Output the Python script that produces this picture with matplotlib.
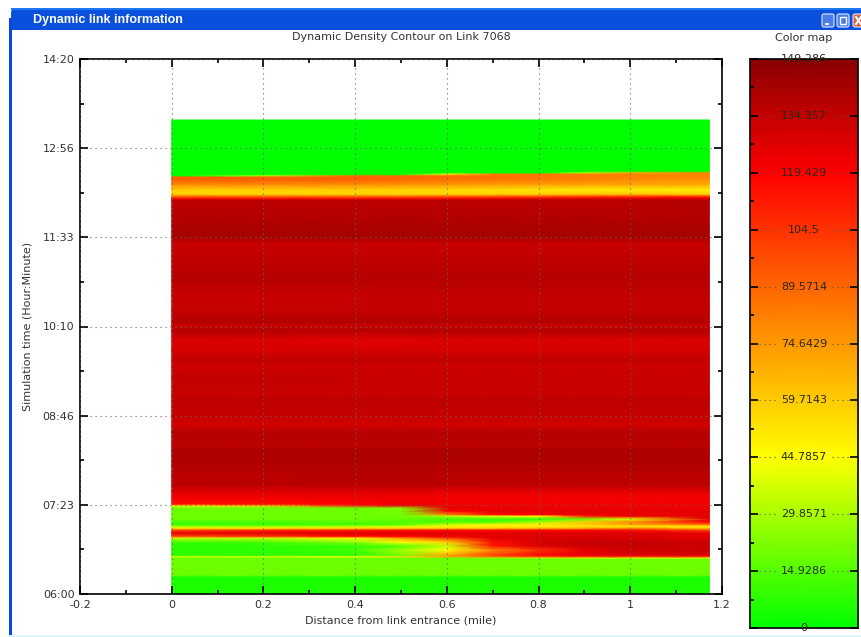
import numpy as np
import matplotlib
matplotlib.use("Agg")
import matplotlib.pyplot as plt
import matplotlib.patches as patches
from matplotlib.colors import LinearSegmentedColormap, Normalize
from matplotlib.ticker import MultipleLocator

W, H = 862, 637

# distance along the link (mile)
distance = [0, 0.2, 0.4, 0.5, 0.6, 0.7, 0.8, 0.9, 1.0, 1.1725]

# simulation time of each row (minutes after midnight)
times = [
    360.0, 375.9, 377.8, 392.7, 393.6, 395.0, 396.4, 401.1, 404.9, 408.6,
    412.3, 414.2, 417.0, 419.8, 421.7, 423.1, 425.0, 427.3, 430.1, 432.9,
    434.3, 437.6, 440.4, 442.7, 444.1, 449.7, 456.3, 461.9, 471.2, 480.6,
    489.9, 494.6, 499.3, 511.4, 517.9, 527.3, 541.3, 546.0, 561.9, 571.2,
    578.7, 588.0, 597.4, 606.7, 610.5, 614.2, 625.4, 639.4, 653.5, 670.3,
    681.5, 688.0, 693.6, 704.9, 714.2, 728.2, 729.2, 731.0, 733.8, 737.5,
    743.1, 746.9, 749.7, 751.1, 752.5, 753.9, 755.3, 803.0,
]

# density (vehicle/mile/lane), one row per time, one column per distance
density = [
    [5, 5, 5, 5, 5, 5, 5, 5, 5, 5],
    [5, 5, 5, 5, 5, 5, 5, 5, 5, 5],
    [19, 19, 19, 19, 19, 19, 19, 19, 19, 19],
    [19, 19, 19, 19, 19, 19, 19, 19, 19, 19],
    [19, 19, 19, 19, 20, 24, 30, 35, 35, 35],
    [40, 40, 45, 55, 70, 85, 95, 100, 100, 100],
    [8, 8, 8, 20, 70, 100, 118, 125, 128, 128],
    [8, 8, 12, 28, 45, 80, 105, 125, 132, 132],
    [8, 8, 9, 14, 35, 112, 128, 132, 134, 132],
    [10, 12, 25, 45, 58, 115, 130, 134, 134, 132],
    [35, 35, 45, 75, 100, 125, 128, 130, 130, 128],
    [100, 105, 118, 122, 125, 126, 128, 128, 128, 125],
    [126, 126, 126, 126, 126, 126, 127, 128, 128, 126],
    [100, 108, 112, 115, 118, 118, 118, 118, 115, 100],
    [50, 50, 55, 55, 58, 60, 65, 70, 80, 62],
    [30, 30, 35, 40, 48, 50, 50, 52, 50, 48],
    [10, 10, 12, 15, 35, 48, 50, 60, 70, 85],
    [12, 12, 14, 15, 14, 15, 30, 60, 80, 120],
    [19, 19, 19, 18, 12, 10, 8, 20, 40, 125],
    [19, 19, 19, 19, 30, 40, 45, 110, 122, 128],
    [19, 19, 19, 20, 80, 115, 122, 125, 125, 125],
    [19, 19, 19, 20, 118, 125, 125, 125, 125, 125],
    [19, 19, 20, 24, 124, 124, 124, 124, 124, 124],
    [45, 60, 110, 125, 123, 123, 123, 123, 123, 123],
    [115, 115, 120, 122, 122, 122, 122, 122, 122, 122],
    [122, 122, 122, 122, 122, 122, 122, 122, 122, 122],
    [128, 128, 128, 128, 127, 127, 127, 127, 127, 127],
    [137, 137, 137, 137, 137, 136, 136, 136, 136, 136],
    [137, 137, 138, 138, 137, 137, 137, 137, 137, 137],
    [139, 139, 139, 139, 139, 139, 139, 139, 139, 139],
    [140, 140, 140, 140, 140, 140, 140, 140, 140, 140],
    [140, 140, 140, 140, 140, 140, 140, 140, 140, 140],
    [136, 136, 136, 136, 136, 136, 136, 136, 136, 136],
    [138, 138, 138, 138, 138, 138, 138, 138, 138, 138],
    [131, 131, 131, 131, 131, 131, 131, 131, 131, 131],
    [134, 134, 134, 134, 134, 134, 134, 134, 134, 134],
    [136, 136, 136, 136, 136, 136, 136, 136, 136, 136],
    [133, 133, 133, 133, 133, 133, 133, 133, 133, 133],
    [135, 135, 134, 134, 134, 134, 134, 134, 134, 134],
    [132, 132, 132, 132, 132, 132, 132, 132, 132, 132],
    [135, 135, 135, 135, 135, 135, 135, 135, 135, 135],
    [130, 130, 130, 130, 130, 130, 130, 130, 130, 130],
    [128, 128, 127, 127, 128, 128, 128, 128, 128, 128],
    [139, 139, 138, 139, 139, 139, 139, 139, 139, 139],
    [132, 132, 132, 132, 132, 132, 132, 132, 132, 132],
    [139, 139, 139, 139, 139, 139, 139, 139, 139, 139],
    [134, 134, 134, 134, 134, 134, 134, 134, 134, 134],
    [134, 134, 134, 135, 135, 135, 135, 135, 135, 135],
    [138, 138, 138, 138, 138, 138, 138, 138, 138, 138],
    [136, 136, 136, 136, 136, 136, 136, 136, 136, 136],
    [134, 134, 134, 134, 134, 134, 134, 134, 134, 134],
    [133, 133, 133, 133, 133, 133, 133, 133, 133, 133],
    [142, 142, 142, 142, 142, 142, 142, 142, 142, 142],
    [140, 140, 140, 140, 140, 140, 140, 140, 140, 140],
    [138, 138, 138, 138, 138, 138, 138, 138, 138, 138],
    [137, 137, 137, 137, 137, 137, 137, 137, 137, 139],
    [125, 125, 125, 125, 126, 128, 130, 132, 132, 134],
    [100, 100, 100, 102, 104, 106, 108, 112, 114, 118],
    [58, 58, 58, 58, 58, 58, 60, 62, 64, 60],
    [58, 58, 58, 56, 55, 54, 52, 50, 50, 50],
    [80, 80, 79, 78, 76, 75, 74, 73, 72, 70],
    [90, 90, 89, 87, 85, 84, 82, 80, 78, 76],
    [92, 92, 91, 90, 88, 87, 85, 83, 81, 80],
    [0.5, 30, 88, 88, 87, 86, 85, 83, 81, 80],
    [0.5, 0.5, 0.5, 0.5, 50, 84, 84, 83, 81, 80],
    [0.5, 0.5, 0.5, 0.5, 0.5, 0.5, 1, 30, 70, 80],
    [0.5, 0.5, 0.5, 0.5, 0.5, 0.5, 0.5, 0.5, 0.5, 0.5],
    [0.5, 0.5, 0.5, 0.5, 0.5, 0.5, 0.5, 0.5, 0.5, 0.5],
]

x_ticks = [-0.2, 0, 0.2, 0.4, 0.6, 0.8, 1, 1.2]
x_labels = ["-0.2", "0", "0.2", "0.4", "0.6", "0.8", "1", "1.2"]
y_ticks = [360, 443.33, 526.67, 610, 693.33, 776.67, 860]
y_labels = ["06:00", "07:23", "08:46", "10:10", "11:33", "12:56", "14:20"]
bar_ticks = [0, 14.9286, 29.8571, 44.7857, 59.7143, 74.6429, 89.5714, 104.5, 119.429, 134.357, 149.286]
bar_labels = ["0", "14.9286", "29.8571", "44.7857", "59.7143", "74.6429", "89.5714", "104.5", "119.429", "134.357", "149.286"]

TEXT = "#333333"

cmap = LinearSegmentedColormap.from_list("density", [
    (0.0, "#00ff00"),
    (0.30, "#ffff00"),
    (0.80, "#ff0000"),
    (1.0, "#8b0000"),
])
norm = Normalize(0, 149.286)


def box(l, t, r, b):
    return [l / W, 1 - b / H, (r - l) / W, (b - t) / H]


fig = plt.figure(figsize=(W / 100, H / 100), dpi=100, facecolor="white")

# window frame behind the plot
chrome = fig.add_axes([0, 0, 1, 1], zorder=0)
chrome.set_xlim(0, W)
chrome.set_ylim(H, 0)
chrome.axis("off")
chrome.add_patch(patches.FancyBboxPatch((11, 9), W, 30, boxstyle="round,pad=0,rounding_size=4",
                                        fc="#0a50dc", ec="none"))
chrome.add_patch(patches.Rectangle((11, 8), W, 2, fc="#1c78f0", ec="none"))
chrome.add_patch(patches.Rectangle((9, 18), 3.5, H, fc="#0a46e6", ec="none"))
chrome.add_patch(patches.Rectangle((12.5, 30), W, H, fc="white", ec="none"))
chrome.add_patch(patches.Rectangle((9, 634.5), W, 3, fc="#dff4fb", ec="none"))
chrome.text(33, 20, "Dynamic link information", color="white", fontsize=9, fontweight="bold",
            family="Liberation Sans", va="center", ha="left")
for left, col in [(822, "#4a7de8"), (837, "#4a7de8"), (853, "#e0603a")]:
    chrome.add_patch(patches.FancyBboxPatch((left, 14), 12, 13, boxstyle="round,pad=0,rounding_size=2",
                                            fc=col, ec="#dfe8fa", lw=0.8))
chrome.add_patch(patches.Rectangle((825, 22.5), 4, 2, fc="white", ec="none"))
chrome.add_patch(patches.Rectangle((840, 17), 6, 7, fc="none", ec="white", lw=1))
chrome.plot([856, 861], [17, 24], color="white", lw=1.5)
chrome.plot([856, 861], [24, 17], color="white", lw=1.5)

# contour
ax = fig.add_axes(box(80, 59, 722, 594), zorder=1)
ax.patch.set_alpha(0)
X, Y = np.meshgrid(distance, times)
ax.pcolormesh(X, Y, np.array(density), cmap=cmap, norm=norm, shading="gouraud", zorder=1)
ax.set_xlim(-0.2, 1.2)
ax.set_ylim(360, 860)
ax.set_xticks(x_ticks)
ax.set_xticklabels(x_labels)
ax.set_yticks(y_ticks)
ax.set_yticklabels(y_labels)
ax.xaxis.set_minor_locator(MultipleLocator(0.1))
ax.set_yticks([401.67, 485, 568.33, 651.67, 735, 818.33], minor=True)
ax.tick_params(which="major", direction="in", length=5.5, width=1.2, colors="black",
               labelcolor=TEXT, labelsize=8, pad=4, top=True, right=True)
ax.tick_params(which="minor", direction="in", length=3, width=1.2, colors="black", top=True, right=True)
ax.grid(True, which="major", color="#666666", linestyle=(0, (1, 3.5)), linewidth=0.8, zorder=3)
ax.set_axisbelow(False)
for s in ax.spines.values():
    s.set_linewidth(1.2)
ax.set_xlabel("Distance from link entrance (mile)", fontsize=8, color=TEXT, labelpad=4)
ax.set_ylabel("Simulation time (Hour:Minute)", fontsize=8, color=TEXT, labelpad=7)
ax.set_title("Dynamic Density Contour on Link 7068", fontsize=8, color=TEXT, pad=13.5)

# color map
cax = fig.add_axes(box(750, 59, 858, 628), zorder=1)
gx, gy = np.meshgrid([0, 1], np.linspace(bar_ticks[0], bar_ticks[-1], 300))
cax.pcolormesh(gx, gy, gy, cmap=cmap, norm=norm, shading="gouraud")
cax.set_xlim(0, 1)
cax.set_ylim(0, 149.286)
cax.set_xticks([])
cax.set_yticks(bar_ticks)
cax.set_yticklabels([])
cax.set_yticks([(a + b) / 2 for a, b in zip(bar_ticks[:-1], bar_ticks[1:])], minor=True)
cax.tick_params(which="major", direction="in", length=5.5, width=1.2, left=True, right=True)
cax.tick_params(which="minor", direction="in", length=3, width=1.2, left=True, right=False)
cax.hlines(bar_ticks[1:-1], 0.08, 0.24, color="#555555", linestyle=(0, (1, 3.5)), linewidth=0.8)
cax.hlines(bar_ticks[1:-1], 0.76, 0.92, color="#555555", linestyle=(0, (1, 3.5)), linewidth=0.8)
for v, s in zip(bar_ticks, bar_labels):
    cax.text(0.5, v, s, fontsize=8, color="#2a2a1a", ha="center", va="center", clip_on=False, zorder=5)
for s in cax.spines.values():
    s.set_linewidth(1.2)
cax.set_title("Color map", fontsize=8, color=TEXT, pad=13)

fig.savefig("out.png", dpi=100)
